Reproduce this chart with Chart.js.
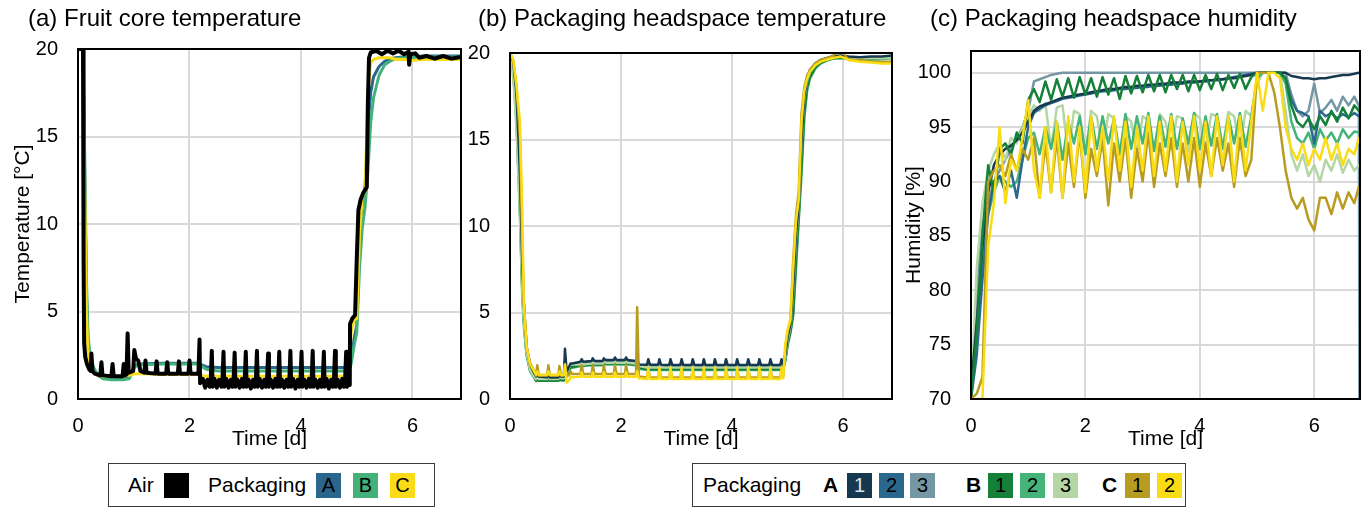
<!DOCTYPE html>
<html>
<head>
<meta charset="utf-8">
<script src="https://cdn.jsdelivr.net/npm/chart.js@4.4.1/dist/chart.umd.min.js"></script>
<style>
  body { margin: 0; background: #fff; font-family: "Liberation Sans", Arial, sans-serif; }
  #wrap { position: relative; width: 1367px; height: 508px; overflow: hidden; }
  canvas { position: absolute; left: 0; top: 0; }
  .ptitle { position: absolute; top: 4px; font-size: 24px; line-height: 28px; white-space: nowrap; color: #000; }
  .box { position: absolute; top: 463px; height: 44px; border: 1.5px solid #3a3a3a; box-sizing: border-box; }
  .lbl { position: absolute; top: 473px; font-size: 21px; line-height: 24px; white-space: nowrap; color: #000; }
  .lbl.b { font-weight: bold; }
  .sw { position: absolute; top: 473px; width: 25px; height: 25px; font-size: 20px; line-height: 25px; text-align: center; color: #000; }
</style>
</head>
<body>
<div id="wrap">
  <canvas id="chartA" width="1367" height="460"></canvas>
  <canvas id="chartB" width="1367" height="460"></canvas>
  <canvas id="chartC" width="1367" height="460"></canvas>

  <div class="ptitle" style="left:28px">(a) Fruit core temperature</div>
  <div class="ptitle" style="left:478px">(b) Packaging headspace temperature</div>
  <div class="ptitle" style="left:930px">(c) Packaging headspace humidity</div>

  <div class="box" style="left:108px;width:327px"></div>
  <span class="lbl" style="left:128px">Air</span>
  <span class="sw" style="left:164px;background:#000"></span>
  <span class="lbl" style="left:208px">Packaging</span>
  <span class="sw" style="left:316px;background:#2b678c">A</span>
  <span class="sw" style="left:353px;background:#43b27a">B</span>
  <span class="sw" style="left:390px;background:#f9dc17">C</span>

  <div class="box" style="left:692px;width:494px"></div>
  <span class="lbl" style="left:703px">Packaging</span>
  <span class="lbl b" style="left:823px">A</span>
  <span class="sw" style="left:847px;background:#17394f;color:#dde3e8">1</span>
  <span class="sw" style="left:879px;background:#2b688e">2</span>
  <span class="sw" style="left:910px;background:#7596a5">3</span>
  <span class="lbl b" style="left:966px">B</span>
  <span class="sw" style="left:988px;background:#158038">1</span>
  <span class="sw" style="left:1020px;background:#45b37a">2</span>
  <span class="sw" style="left:1053px;background:#b3d6a4">3</span>
  <span class="lbl b" style="left:1102px">C</span>
  <span class="sw" style="left:1125px;background:#b89c22">1</span>
  <span class="sw" style="left:1157px;background:#fadc14">2</span>
</div>

<script>
// ---------- (a) fruit core temperature ----------
var airTime = [
  0, 0.09, 0.1, 0.11, 0.13, 0.16, 0.2, 0.23, 0.24, 0.26, 0.3,
  0.4, 0.42, 0.44, 0.6, 0.62, 0.64, 0.8, 0.82, 0.84, 0.87, 0.89, 0.91,
  0.99, 1.01, 1.04, 1.08, 1.12, 1.19, 1.21, 1.23, 1.39, 1.41, 1.43,
  1.58, 1.6, 1.62, 1.79, 1.81, 1.83, 1.98, 2.0, 2.02, 2.16, 2.18, 2.19,
  2.24, 2.28, 2.32, 2.36,
  2.38, 2.40, 2.415, 2.45, 2.49, 2.53, 2.57,
  2.59, 2.61, 2.625, 2.66, 2.7, 2.74, 2.77,
  2.79, 2.81, 2.825, 2.86, 2.9, 2.94, 2.97,
  2.99, 3.01, 3.025, 3.06, 3.1, 3.14, 3.17,
  3.19, 3.21, 3.225, 3.26, 3.3, 3.34, 3.37,
  3.39, 3.41, 3.425, 3.46, 3.5, 3.54, 3.57,
  3.59, 3.61, 3.625, 3.66, 3.7, 3.74, 3.77,
  3.79, 3.81, 3.825, 3.86, 3.9, 3.94, 3.97,
  3.99, 4.01, 4.025, 4.06, 4.1, 4.14, 4.17,
  4.19, 4.21, 4.225, 4.26, 4.3, 4.34, 4.37,
  4.39, 4.41, 4.425, 4.46, 4.5, 4.54, 4.57,
  4.59, 4.61, 4.625, 4.66, 4.7, 4.74, 4.77,
  4.79, 4.81, 4.825, 4.85, 4.875,
  4.88, 4.92, 4.97, 5.0, 5.03, 5.07, 5.12, 5.18, 5.2, 5.22, 5.25, 5.35, 5.45,
  5.55, 5.65, 5.75, 5.85, 5.93, 5.94, 5.96, 6.05, 6.12, 6.25, 6.4, 6.55, 6.7, 6.87
];
var airTemp = [
  20, 20, 8, 3.2, 2.4, 2.0, 1.7, 1.6, 2.6, 1.6, 1.45,
  1.35, 2.1, 1.35, 1.3, 2.0, 1.3, 1.3, 2.0, 1.35, 1.4, 3.75, 1.5,
  1.6, 2.8, 2.3, 2.2, 1.6, 1.5, 2.2, 1.5, 1.45, 2.15, 1.45,
  1.45, 2.1, 1.45, 1.45, 2.15, 1.45, 1.45, 2.2, 1.45, 1.45, 3.4, 0.9,
  1.15, 0.65, 1.1, 0.7,
  1.0, 2.75, 0.7, 1.15, 0.65, 1.1, 0.7,
  1.0, 2.7, 0.7, 1.15, 0.65, 1.1, 0.7,
  1.0, 2.65, 0.7, 1.1, 0.65, 1.15, 0.7,
  1.0, 2.7, 0.7, 1.1, 0.6, 1.1, 0.7,
  1.0, 2.75, 0.7, 1.15, 0.65, 1.1, 0.7,
  1.0, 2.6, 0.7, 1.1, 0.65, 1.15, 0.7,
  1.0, 2.7, 0.7, 1.1, 0.65, 1.1, 0.7,
  1.0, 2.75, 0.7, 1.15, 0.6, 1.1, 0.7,
  1.0, 2.7, 0.7, 1.1, 0.65, 1.15, 0.7,
  1.0, 2.75, 0.7, 1.1, 0.65, 1.1, 0.7,
  1.0, 2.7, 0.7, 1.15, 0.6, 1.1, 0.7,
  1.0, 2.75, 0.7, 1.1, 0.65, 1.15, 0.7,
  1.0, 2.7, 0.7, 1.1, 0.8,
  4.3, 4.6, 4.8, 8, 10.8, 11.4, 11.8, 12.1, 17, 19.5, 19.8, 19.9, 19.7,
  19.9, 19.75, 19.9, 19.7, 19.85, 19.1, 19.7, 19.75, 19.5, 19.6, 19.45, 19.6, 19.45, 19.55
];

var coreTime = [0, 0.09, 0.12, 0.15, 0.18, 0.22, 0.28, 0.35, 0.45, 0.6, 0.8, 0.92, 0.97, 1.02, 1.1,
  1.5, 2.0, 2.15, 2.22, 2.3, 2.5, 3.0, 3.5, 4.0, 4.5, 4.85, 4.9, 4.95, 5.0, 5.05,
  5.1, 5.15, 5.2, 5.25, 5.3, 5.4, 5.5, 5.6, 5.7, 5.85, 6.0, 6.2, 6.5, 6.87];
var coreA = [20, 20, 13, 6, 3.2, 2.2, 1.7, 1.35, 1.2, 1.15, 1.15, 1.2, 1.6, 1.9, 2.0,
  2.05, 2.05, 2.05, 1.95, 1.85, 1.8, 1.8, 1.8, 1.8, 1.8, 1.8, 2.2, 3.4, 4.2, 9.5,
  11.2, 12.2, 15.5, 17.5, 18.4, 19.0, 19.3, 19.45, 19.5, 19.55, 19.55, 19.6, 19.6, 19.6];
var coreB = [20, 20, 14, 7, 3.6, 2.4, 1.8, 1.4, 1.15, 1.1, 1.1, 1.15, 1.5, 1.85, 1.95,
  2.0, 2.0, 2.0, 1.85, 1.7, 1.6, 1.6, 1.6, 1.6, 1.6, 1.6, 2.0, 3.0, 3.8, 7.5,
  9.8, 11.0, 13.0, 15.8, 17.2, 18.5, 19.1, 19.3, 19.45, 19.5, 19.5, 19.55, 19.55, 19.55];
var coreC = [20, 20, 12, 5, 2.6, 1.8, 1.5, 1.35, 1.3, 1.3, 1.3, 1.35, 1.4, 1.45, 1.45,
  1.4, 1.4, 1.4, 1.35, 1.3, 1.3, 1.3, 1.3, 1.3, 1.3, 1.3, 3.8, 4.5, 4.6, 9.5,
  11.5, 11.9, 17.5, 19.2, 19.4, 19.5, 19.5, 19.5, 19.4, 19.4, 19.35, 19.4, 19.4, 19.4];

// ---------- (b) headspace temperature ----------
var hsTime = [
  0, 0.06, 0.12, 0.18, 0.22, 0.25, 0.3, 0.36, 0.42,
  0.47, 0.49, 0.52, 0.67, 0.69, 0.72, 0.87, 0.89, 0.92, 0.97, 0.99, 1.02,
  1.07, 1.09, 1.12, 1.27, 1.29, 1.32, 1.47, 1.49, 1.52, 1.67, 1.69, 1.72,
  1.87, 1.89, 1.92, 2.07, 2.09, 2.12, 2.27, 2.29, 2.32, 2.47, 2.49, 2.52,
  2.67, 2.69, 2.72, 2.87, 2.89, 2.92, 3.07, 3.09, 3.12, 3.27, 3.29, 3.32,
  3.47, 3.49, 3.52, 3.67, 3.69, 3.72, 3.87, 3.89, 3.92, 4.07, 4.09, 4.12,
  4.27, 4.29, 4.32, 4.47, 4.49, 4.52, 4.67, 4.69, 4.72, 4.87, 4.89, 4.92,
  4.96, 5.0, 5.05, 5.1, 5.15, 5.2, 5.25, 5.3, 5.35, 5.4, 5.5, 5.6, 5.7, 5.8, 5.95, 6.1, 6.3, 6.5, 6.7, 6.88
];
var hsA1 = [
  20, 19.5, 17.5, 13, 8, 5.5, 3.0, 2.0, 1.6,
  1.3, 1.45, 1.3, 1.25, 1.4, 1.25, 1.25, 1.4, 1.3, 1.3, 2.9, 1.6,
  1.9, 2.05, 2.05, 2.15, 2.3, 2.15, 2.2, 2.35, 2.2, 2.2, 2.35, 2.25,
  2.25, 2.4, 2.25, 2.25, 2.4, 2.25, 2.2, 2.35, 2.0, 1.98, 2.3, 1.98,
  1.98, 2.3, 1.98, 1.97, 2.3, 1.97, 1.97, 2.3, 1.97, 1.97, 2.3, 1.97,
  1.96, 2.3, 1.96, 1.96, 2.3, 1.96, 1.96, 2.3, 1.96, 1.96, 2.3, 1.96,
  1.96, 2.3, 1.96, 1.96, 2.3, 1.96, 1.96, 2.3, 1.96, 1.96, 2.3, 2.0,
  2.6, 3.6, 4.3, 6.5, 9.5, 11.3, 15.0, 17.5, 18.5, 19.0, 19.4, 19.6, 19.7, 19.8, 19.85, 19.8, 19.75, 19.8, 19.8, 19.85
];
var hsA2 = [
  20, 19.3, 17, 12, 7, 5, 2.8, 1.9, 1.5,
  1.2, 1.3, 1.2, 1.2, 1.3, 1.2, 1.2, 1.3, 1.25, 1.25, 2.2, 1.5,
  1.8, 1.95, 1.95, 2.05, 2.2, 2.05, 2.1, 2.25, 2.1, 2.1, 2.25, 2.15,
  2.15, 2.3, 2.15, 2.15, 2.3, 2.15, 2.1, 2.25, 1.95, 1.9, 2.2, 1.9,
  1.9, 2.2, 1.9, 1.9, 2.2, 1.9, 1.9, 2.2, 1.9, 1.9, 2.2, 1.9,
  1.9, 2.2, 1.9, 1.9, 2.2, 1.9, 1.9, 2.2, 1.9, 1.9, 2.2, 1.9,
  1.9, 2.2, 1.9, 1.9, 2.2, 1.9, 1.9, 2.2, 1.9, 1.9, 2.2, 1.95,
  2.5, 3.4, 4.1, 6.0, 9.0, 11.0, 14.5, 17.2, 18.3, 18.9, 19.3, 19.55, 19.65, 19.75, 19.8, 19.75, 19.7, 19.7, 19.75, 19.8
];
var hsA3 = [
  20, 19, 16.5, 11.5, 7, 4.8, 2.7, 1.8, 1.45,
  1.15, 1.25, 1.15, 1.15, 1.25, 1.15, 1.15, 1.25, 1.2, 1.2, 1.9, 1.45,
  1.75, 1.9, 1.9, 2.0, 2.15, 2.0, 2.05, 2.2, 2.05, 2.05, 2.2, 2.1,
  2.1, 2.25, 2.1, 2.1, 2.25, 2.1, 2.05, 2.2, 1.9, 1.85, 2.15, 1.85,
  1.85, 2.15, 1.85, 1.85, 2.15, 1.85, 1.85, 2.15, 1.85, 1.85, 2.15, 1.85,
  1.85, 2.15, 1.85, 1.85, 2.15, 1.85, 1.85, 2.15, 1.85, 1.85, 2.15, 1.85,
  1.85, 2.15, 1.85, 1.85, 2.15, 1.85, 1.85, 2.15, 1.85, 1.85, 2.15, 1.9,
  2.4, 3.3, 4.0, 5.5, 8.5, 10.8, 14.0, 17.0, 18.2, 18.8, 19.3, 19.5, 19.65, 19.75, 19.8, 19.75, 19.7, 19.7, 19.75, 19.8
];
var hsB1 = [
  20, 19, 16, 11, 6.5, 4.5, 2.6, 1.7, 1.4,
  1.05, 1.15, 1.05, 1.05, 1.15, 1.05, 1.05, 1.15, 1.1, 1.1, 1.8, 1.4,
  1.7, 1.85, 1.85, 1.95, 2.1, 1.95, 2.0, 2.15, 2.0, 2.0, 2.15, 2.05,
  2.05, 2.2, 2.05, 2.05, 2.2, 2.05, 2.0, 2.15, 1.8, 1.72, 2.0, 1.72,
  1.72, 2.0, 1.72, 1.72, 2.0, 1.72, 1.72, 2.0, 1.72, 1.72, 2.0, 1.72,
  1.72, 2.0, 1.72, 1.72, 2.0, 1.72, 1.72, 2.0, 1.72, 1.72, 2.0, 1.72,
  1.72, 2.0, 1.72, 1.72, 2.0, 1.72, 1.72, 2.0, 1.72, 1.72, 2.0, 1.8,
  2.3, 3.2, 3.9, 5.0, 8.0, 10.6, 13.5, 16.5, 18.0, 18.6, 19.2, 19.45, 19.6, 19.7, 19.75, 19.7, 19.65, 19.65, 19.7, 19.75
];
var hsB2 = [
  20, 18.8, 15.8, 10.5, 6, 4.2, 2.5, 1.6, 1.3,
  1.05, 1.12, 1.05, 1.05, 1.12, 1.05, 1.05, 1.12, 1.08, 1.05, 1.7, 1.35,
  1.65, 1.8, 1.8, 1.9, 2.05, 1.9, 1.95, 2.1, 1.95, 1.95, 2.1, 2.0,
  2.0, 2.15, 2.0, 2.0, 2.15, 2.0, 1.95, 2.1, 1.75, 1.68, 1.95, 1.68,
  1.68, 1.95, 1.68, 1.68, 1.95, 1.68, 1.68, 1.95, 1.68, 1.68, 1.95, 1.68,
  1.68, 1.95, 1.68, 1.68, 1.95, 1.68, 1.68, 1.95, 1.68, 1.68, 1.95, 1.68,
  1.68, 1.95, 1.68, 1.68, 1.95, 1.68, 1.68, 1.95, 1.68, 1.68, 1.95, 1.75,
  2.2, 3.1, 3.8, 4.8, 7.5, 10.3, 13.0, 16.2, 17.8, 18.5, 19.1, 19.4, 19.55, 19.65, 19.7, 19.65, 19.6, 19.6, 19.65, 19.7
];
var hsB3 = [
  20, 18.5, 15.5, 10.5, 6.2, 4.4, 2.6, 1.7, 1.35,
  1.15, 1.3, 1.15, 1.15, 1.3, 1.15, 1.15, 1.3, 1.2, 1.2, 1.9, 1.5,
  1.85, 2.0, 2.0, 2.0, 2.2, 2.0, 2.05, 2.25, 2.05, 2.05, 2.25, 2.1,
  2.1, 2.3, 2.1, 2.1, 2.3, 2.1, 2.05, 2.25, 1.9, 1.82, 2.2, 1.82,
  1.82, 2.2, 1.82, 1.82, 2.2, 1.82, 1.82, 2.2, 1.82, 1.82, 2.2, 1.82,
  1.82, 2.2, 1.82, 1.82, 2.2, 1.82, 1.82, 2.2, 1.82, 1.82, 2.2, 1.82,
  1.82, 2.2, 1.82, 1.82, 2.2, 1.82, 1.82, 2.2, 1.82, 1.82, 2.2, 1.9,
  2.4, 3.4, 4.2, 6.2, 9.2, 11.2, 14.8, 17.4, 18.4, 18.9, 19.35, 19.55, 19.65, 19.75, 19.8, 19.75, 19.7, 19.7, 19.7, 19.75
];
var hsC1 = [
  20, 19.5, 18, 15, 9, 5.5, 3.0, 2.1, 1.7,
  1.35, 1.95, 1.35, 1.35, 1.95, 1.35, 1.35, 1.9, 1.35, 1.35, 2.0, 1.3,
  1.4, 1.6, 1.45, 1.45, 1.95, 1.45, 1.45, 1.95, 1.45, 1.45, 1.95, 1.45,
  1.45, 1.95, 1.45, 1.45, 1.95, 1.45, 1.45, 5.3, 1.3, 1.25, 1.7, 1.25,
  1.25, 1.7, 1.25, 1.25, 1.7, 1.25, 1.25, 1.7, 1.25, 1.25, 1.7, 1.25,
  1.25, 1.7, 1.25, 1.25, 1.7, 1.25, 1.25, 1.7, 1.25, 1.25, 1.7, 1.25,
  1.25, 1.7, 1.25, 1.25, 1.7, 1.25, 1.25, 1.7, 1.25, 1.25, 1.7, 1.3,
  3.0, 3.9, 4.5, 8.0, 10.6, 12.0, 16.5, 18.0, 18.7, 19.0, 19.4, 19.6, 19.7, 19.8, 20.2, 19.6, 19.6, 19.5, 19.5, 19.5
];
var hsC2 = [
  20, 19.6, 18, 16, 11, 5.5, 3.0, 2.0, 1.7,
  1.4, 1.6, 1.4, 1.4, 1.6, 1.4, 1.4, 1.6, 1.4, 1.4, 2.0, 0.95,
  1.1, 1.3, 1.25, 1.28, 1.55, 1.28, 1.28, 1.55, 1.28, 1.28, 1.55, 1.28,
  1.28, 1.55, 1.28, 1.28, 1.55, 1.28, 1.28, 1.6, 1.2, 1.15, 1.8, 1.15,
  1.15, 1.8, 1.15, 1.15, 1.8, 1.15, 1.15, 1.8, 1.15, 1.15, 1.8, 1.15,
  1.15, 1.8, 1.15, 1.15, 1.8, 1.15, 1.15, 1.8, 1.15, 1.15, 1.8, 1.15,
  1.15, 1.8, 1.15, 1.15, 1.8, 1.15, 1.15, 1.8, 1.15, 1.15, 1.8, 1.2,
  3.2, 4.0, 4.6, 7.5, 10.3, 11.5, 16.0, 17.8, 18.5, 18.9, 19.3, 19.5, 19.6, 19.7, 19.8, 19.6, 19.5, 19.45, 19.4, 19.4
];

// ---------- (c) headspace humidity ----------
var rhTime = [
  0, 0.1, 0.2, 0.3, 0.4, 0.5, 0.6, 0.7, 0.8, 0.9,
  1.0, 1.1, 1.2, 1.3, 1.4, 1.5, 1.6, 1.7, 1.8, 1.9,
  2.0, 2.1, 2.2, 2.3, 2.4, 2.5, 2.6, 2.7, 2.8, 2.9,
  3.0, 3.1, 3.2, 3.3, 3.4, 3.5, 3.6, 3.7, 3.8, 3.9,
  4.0, 4.1, 4.2, 4.3, 4.4, 4.5, 4.6, 4.7, 4.8, 4.9,
  5.0, 5.1, 5.2, 5.3, 5.4, 5.5, 5.6, 5.7, 5.8, 5.9,
  6.0, 6.1, 6.2, 6.3, 6.4, 6.5, 6.6, 6.7, 6.78, 6.79
];
var rhA1 = [
  71, 77, 84, 89, 91.5, 92.5, 93, 93.3, 93.8, 94.5,
  95.5, 96.5, 96.9, 97.1, 97.3, 97.5, 97.7, 97.8, 97.9, 98.0,
  98.1, 98.2, 98.3, 98.4, 98.5, 98.5, 98.6, 98.7, 98.7, 98.8,
  98.8, 98.9, 98.9, 99.0, 99.0, 99.1, 99.1, 99.1, 99.2, 99.2,
  99.2, 99.3, 99.3, 99.4, 99.4, 99.5, 99.5, 99.6, 99.7, 99.8,
  100, 100, 100, 100, 100, 100, 99.7, 99.6, 99.5, 99.5,
  99.4, 99.5, 99.5, 99.6, 99.7, 99.8, 99.8, 99.9, 100, 100
];
var rhA2 = [
  70, 74, 81, 87, 90, 90.5, 89, 91, 88.5, 92,
  95, 96.3, 96.7, 97.0, 97.2, 97.4, 97.6, 97.7, 97.8, 97.9,
  98.0, 98.1, 98.2, 98.3, 98.3, 98.4, 98.5, 98.5, 98.6, 98.6,
  98.7, 98.7, 98.8, 98.8, 98.9, 98.9, 99.0, 99.0, 99.1, 99.1,
  99.2, 99.2, 99.3, 99.3, 99.4, 99.5, 99.6, 99.7, 99.8, 99.9,
  100, 100, 100, 100, 100, 99.5, 97.5, 96.5, 96.3, 96.0,
  93.5, 96.5, 96.0, 96.3, 95.8, 96.2, 95.9, 96.3, 96.0, 96.0
];
var rhA3 = [
  70, 80, 86, 88, 90, 91, 92, 93, 94, 95,
  96.5, 99.2, 99.4, 99.6, 99.8, 99.9, 100, 100, 100, 100,
  100, 100, 100, 100, 100, 100, 100, 100, 100, 100,
  100, 100, 100, 100, 100, 100, 100, 100, 100, 100,
  100, 100, 100, 100, 100, 100, 100, 100, 100, 100,
  100, 100, 100, 100, 100, 100, 98, 96.5, 96.0, 96.5,
  99, 96.3, 96.8, 97.5, 96.5, 97.8, 97.0, 97.8, 97.0, 70
];
var rhB1 = [
  70, 76, 85, 91.5, 89, 93, 93.5, 92.5, 94.5, 93.5,
  97.5, 98.5, 97.3, 99.2, 97.5, 99.4, 97.8, 99.5, 97.7, 99.6,
  98, 99.5, 97.8, 99.6, 98.0, 99.5, 97.6, 99.7, 98.1, 99.7,
  98.2, 99.8, 98.3, 99.8, 98.2, 99.8, 98.5, 99.8, 98.3, 99.8,
  98.4, 99.8, 98.5, 99.9, 98.4, 99.8, 98.6, 99.9, 98.5, 99.6,
  100, 100, 100, 100, 100, 99.5, 97, 95.5, 95, 95.8,
  94.8, 96, 95.2, 96.5, 95.5, 96.8, 95.8, 97, 96.5, 96.5
];
var rhB2 = [
  70, 76, 83, 87, 89, 90.5, 90, 89.5, 90, 92,
  94, 94.5, 92.5, 95, 93, 95.5, 92, 95.5, 93.5, 96,
  92.5, 96, 93, 96, 93.5, 95.8, 92.5, 96.2, 93, 96,
  93.5, 96.3, 92.8, 96, 93.2, 96.2, 93, 95.8, 93.5, 96.3,
  93, 96, 93.3, 96.2, 93, 96, 93.5, 96.3, 93.2, 96,
  99.5, 100, 100, 100, 100, 99, 95.5, 94, 93.5, 94.5,
  93, 94.8, 93.8, 94.5, 93.5, 94.8, 94, 94.6, 94.5, 94.5
];
var rhB3 = [
  70, 82, 88, 91, 92.5, 93.5, 92, 94, 93.5, 95,
  96, 97, 96.5, 97.2, 93, 96.8, 97, 92.5, 96.5, 96.2,
  92.5, 96.5, 96, 92.8, 96.2, 95.8, 92.5, 96, 95.5, 92.5,
  96, 95.6, 92.8, 96.2, 95.5, 93, 96, 95.8, 92.8, 96.3,
  95.8, 93, 96.2, 96, 93.2, 96.4, 96, 93, 96.5, 96,
  99, 100, 100, 100, 100, 96.5, 92.5, 91, 92.5, 90.5,
  91.5, 90, 92, 91, 92.5, 90.8, 92, 91, 91.5, 91.5
];
var rhC1 = [
  70, 70.5, 72, 90, 91, 91.5, 90.5, 92.5, 91, 93,
  92, 94, 88.5, 93.5, 89, 94, 88.5, 93.5, 89.5, 94.5,
  88.5, 93, 90.5, 94, 87.8, 93.5, 90, 94, 88.5, 93,
  90, 94.5, 89.5, 93.5, 90.5, 94, 89.5, 93.5, 90, 94,
  89.5, 93.5, 90.5, 94, 91, 93.5, 89.5, 94, 90.5, 92,
  100, 100, 100, 98.2, 95, 91, 88.5, 87.5, 88.5, 86.5,
  85.5, 88.5, 88.5, 87, 89, 87.5, 89, 88, 89.5, 89.5
];
var rhC2 = [
  70, 70, 70, 84, 88, 95, 88, 92, 91, 94,
  97.5, 91, 88.5, 95, 89, 95.5, 88.5, 96, 90, 95,
  89, 96, 91, 95, 90, 96, 91, 95.5, 89.5, 95,
  91, 96, 90.5, 95.5, 91, 96, 90, 95.5, 91.5, 96,
  91, 95.5, 90.5, 96, 91.5, 96, 90, 96, 91, 95.5,
  100, 96.5, 100, 100, 99.5, 95, 93, 92, 93.5, 91.5,
  93, 92, 94, 92, 93.5, 91.5, 93, 92.5, 94, 94
];

var fontFamily = '"Liberation Sans", Arial, sans-serif';
Chart.defaults.font.family = fontFamily;
Chart.defaults.color = '#000';

// box round the plot area
var frame = {
  id: 'frame',
  afterDatasetsDraw(chart) {
    var a = chart.chartArea, ctx = chart.ctx;
    ctx.save();
    ctx.strokeStyle = '#000';
    ctx.lineWidth = 2;
    ctx.strokeRect(a.left, a.top, a.right - a.left, a.bottom - a.top);
    ctx.restore();
  }
};

function series(label, times, values, color, width) {
  return {
    label: label,
    data: times.map((t, i) => ({ x: t, y: values[i] })),
    borderColor: color,
    borderWidth: width,
    pointRadius: 0,
    tension: 0,
    borderJoinStyle: 'round',
    fill: false
  };
}

function panel(id, area, yAxis, datasets) {
  var grid = { color: '#d9d9d9', lineWidth: 2, drawTicks: false };
  return new Chart(document.getElementById(id), {
    type: 'line',
    data: { datasets: datasets },
    options: {
      responsive: false,
      animation: false,
      layout: { padding: { left: area.padLeft, right: 1367 - area.right, top: area.top, bottom: 0 } },
      plugins: { legend: { display: false }, tooltip: { enabled: false } },
      scales: {
        x: {
          type: 'linear', min: 0, max: area.xMax,
          ticks: { stepSize: 2, includeBounds: false, padding: 15, font: { size: 20 } },
          grid: grid,
          border: { display: false },
          title: { display: true, text: 'Time [d]', font: { size: 21 }, padding: { top: 0, bottom: 8 } },
          afterFit: function (s) { s.height = 460 - 399; }
        },
        y: {
          type: 'linear', min: yAxis.min, max: yAxis.max,
          ticks: { stepSize: 5, includeBounds: false, padding: 20, font: { size: 20 } },
          grid: grid,
          border: { display: false },
          title: {
            display: !!yAxis.title, text: yAxis.title || '', font: { size: 21 },
            padding: { top: yAxis.titlePad || 0, bottom: 0 }
          },
          afterFit: function (s) { s.width = area.left - area.padLeft; }
        }
      }
    },
    plugins: [frame]
  });
}

panel('chartA', { padLeft: 0, left: 78, right: 461, top: 49, xMax: 6.87 },
  { min: 0, max: 20, title: 'Temperature [°C]', titlePad: 11 },
  [
    series('Air', airTime, airTemp, '#000000', 4),
    series('C', coreTime, coreC, '#f9dc17', 3),
    series('B', coreTime, coreB, '#43b27a', 3),
    series('A', coreTime, coreA, '#2b678c', 3)
  ]);

panel('chartB', { padLeft: 462, left: 510, right: 892, top: 53, xMax: 6.88 },
  { min: 0, max: 20 },
  [
    series('C2', hsTime, hsC2, '#fadc14', 2.5),
    series('C1', hsTime, hsC1, '#b89c22', 2.5),
    series('A1', hsTime, hsA1, '#17394f', 2.5),
    series('B3', hsTime, hsB3, '#b3d6a4', 2.5),
    series('B1', hsTime, hsB1, '#158038', 2.5),
    series('B2', hsTime, hsB2, '#45b37a', 2.5),
    series('A2', hsTime, hsA2, '#2b688e', 2.5),
    series('A3', hsTime, hsA3, '#7596a5', 2.5)
  ]);

panel('chartC', { padLeft: 900, left: 971, right: 1360, top: 51, xMax: 6.8 },
  { min: 70, max: 102, title: 'Humidity [%]', titlePad: 2 },
  [
    series('C2', rhTime, rhC2, '#fadc14', 2.5),
    series('C1', rhTime, rhC1, '#b89c22', 2.5),
    series('B1', rhTime, rhB1, '#158038', 2.5),
    series('A1', rhTime, rhA1, '#17394f', 2.5),
    series('A2', rhTime, rhA2, '#2b688e', 2.5),
    series('B2', rhTime, rhB2, '#45b37a', 2.5),
    series('B3', rhTime, rhB3, '#b3d6a4', 2.5),
    series('A3', rhTime, rhA3, '#7596a5', 2.5)
  ]);
</script>
</body>
</html>
